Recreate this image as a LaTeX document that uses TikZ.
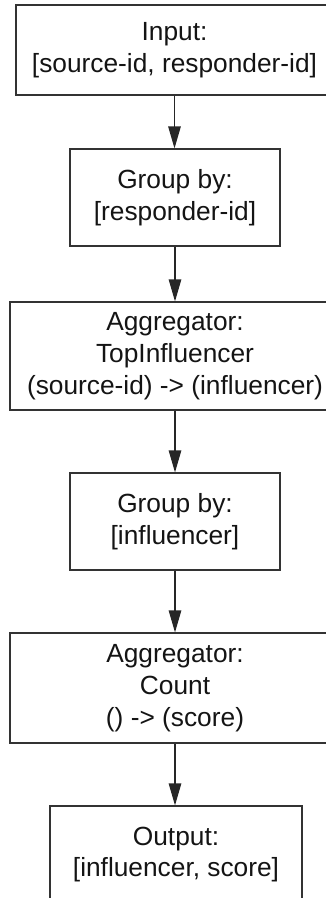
\documentclass[tikz,border=0pt]{standalone}
\usepackage{fontspec}
\setmainfont{Liberation Sans}
\usetikzlibrary{arrows.meta}

\tikzset{
  stage/.style={draw=black!80, line width=1.2pt, rectangle, align=center,
    inner sep=0pt, font=\fontsize{26.3}{31.8}\selectfont, text=black!92},
  flow/.style={draw=black!85, line width=1.2pt,
    -{Triangle[length=22pt,width=12.5pt]}}
}

\begin{document}
\begin{tikzpicture}[x=1pt,y=-1pt]
  \useasboundingbox (0,0) rectangle (326,898);
  \clip (0,0) rectangle (326,898);

  % pipeline stages, top to bottom
  \node[stage, minimum width=317pt, minimum height=90pt]  (input) at (174.5,50)
    {Input:\\{[}source-id, responder-id{]}};
  \node[stage, minimum width=210pt, minimum height=97pt]  (grp1)  at (175,197.5)
    {Group by:\\{[}responder-id{]}};
  \node[stage, minimum width=330pt, minimum height=108pt] (agg1)  at (175,356)
    {Aggregator:\\TopInfluencer\\(source-id) -> (influencer)};
  \node[stage, minimum width=210pt, minimum height=97pt]  (grp2)  at (175,521.5)
    {Group by:\\{[}influencer{]}};
  \node[stage, minimum width=330pt, minimum height=110pt] (agg2)  at (175,688)
    {Aggregator:\\Count\\() -> (score)};
  \node[stage, minimum width=252pt, minimum height=97pt]  (output) at (176,854.5)
    {Output:\\{[}influencer, score{]}};

  % connectors, kept vertical on the shared centre line
  \draw[flow] (input.south) -- (input.south |- grp1.north);
  \draw[flow] (grp1.south)  -- (agg1.north);
  \draw[flow] (agg1.south)  -- (grp2.north);
  \draw[flow] (grp2.south)  -- (agg2.north);
  \draw[flow] (agg2.south)  -- (agg2.south |- output.north);
\end{tikzpicture}
\end{document}
